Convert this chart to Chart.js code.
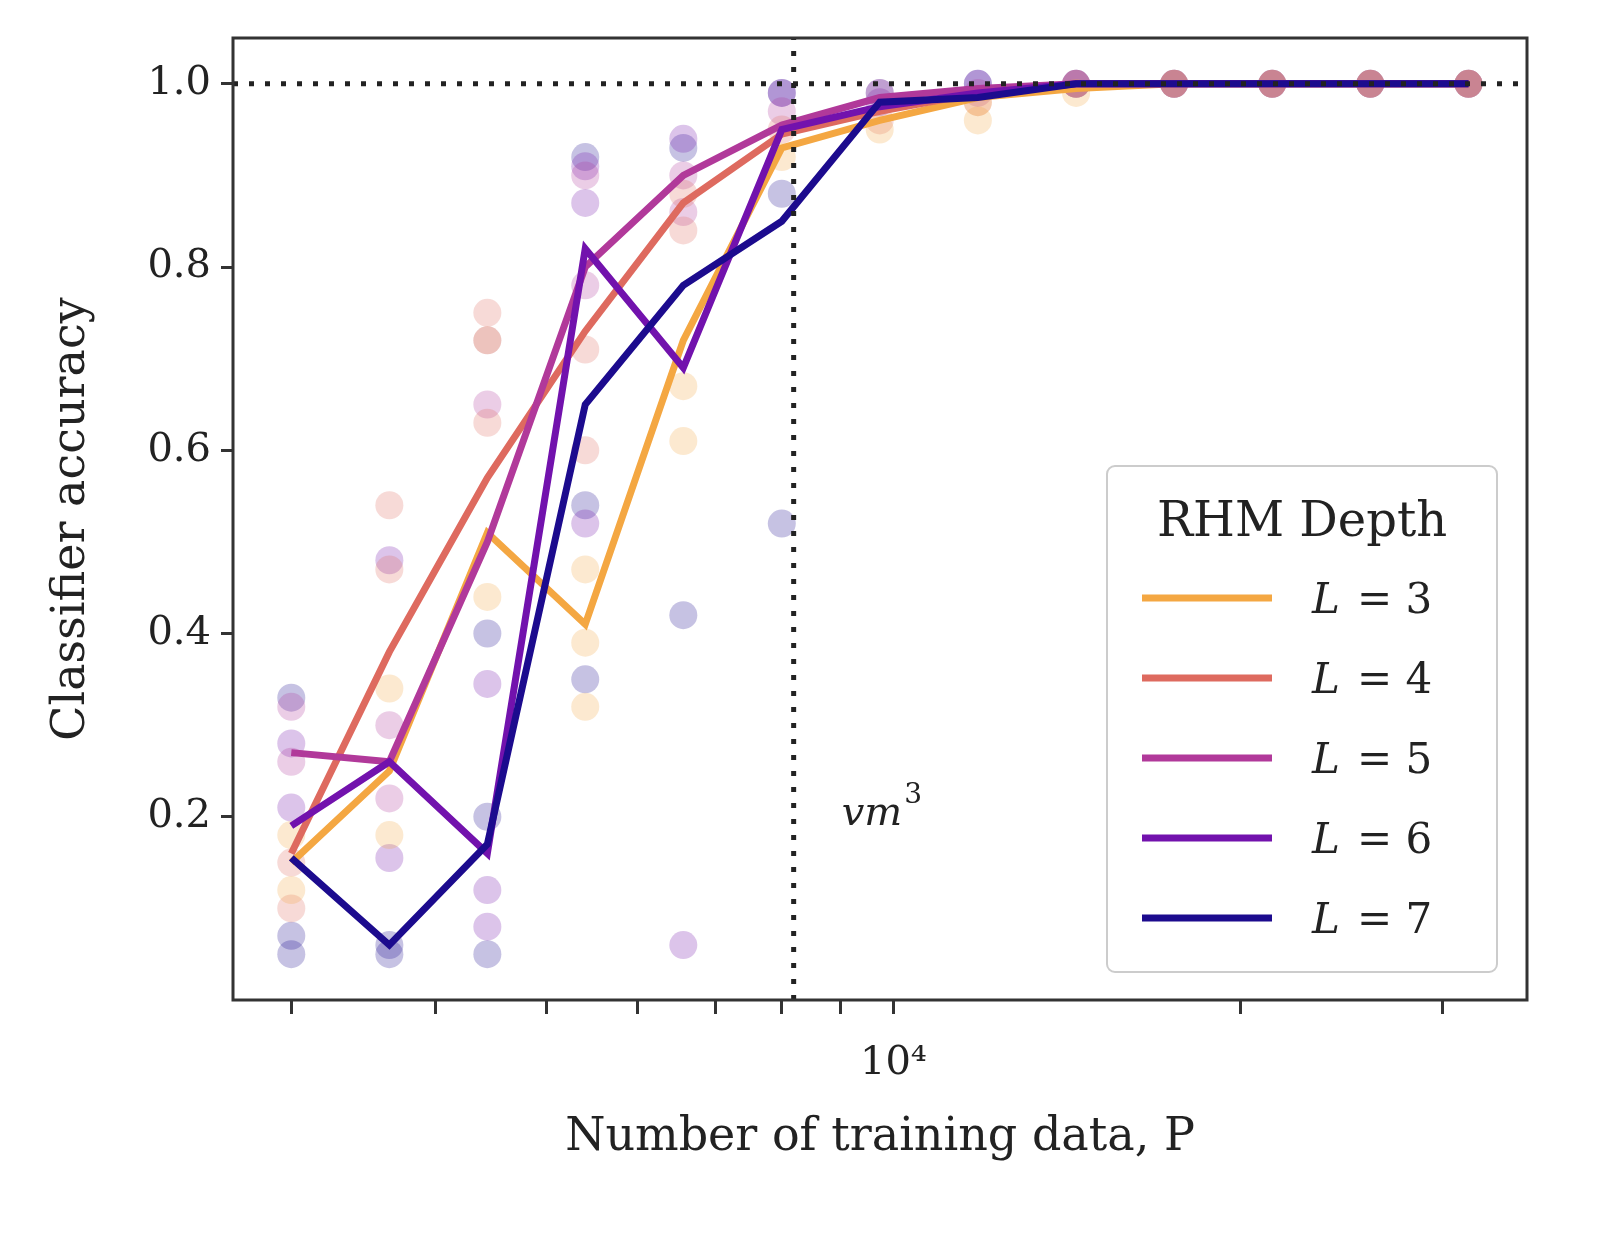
<!DOCTYPE html>
<html><head><meta charset="utf-8">
<script src="https://cdn.jsdelivr.net/npm/chart.js@4.4.1/dist/chart.umd.min.js"></script>
<style>html,body{margin:0;padding:0;background:#fff}#w{width:1600px;height:1240px}</style>
</head><body><div id="w"><canvas id="c"></canvas></div>
<script>
const P = [3000, 3650, 4440, 5400, 6570, 8000, 9730, 11840, 14410, 17530, 21330, 25950, 31580];
const vLineX = 8192;
const labels = ["L = 3", "L = 4", "L = 5", "L = 6", "L = 7"];
const colors = ["#f4a742", "#de6a5f", "#b1399a", "#7212ad", "#1c0b8e"];
const mean3 = [0.15, 0.25, 0.51, 0.41, 0.72, 0.93, 0.96, 0.985, 0.995, 1, 1, 1, 1];
const mean4 = [0.16, 0.38, 0.57, 0.73, 0.87, 0.945, 0.97, 0.99, 1, 1, 1, 1, 1];
const mean5 = [0.27, 0.26, 0.50, 0.80, 0.90, 0.955, 0.985, 0.995, 1, 1, 1, 1, 1];
const mean6 = [0.19, 0.26, 0.16, 0.82, 0.69, 0.95, 0.975, 0.99, 1, 1, 1, 1, 1];
const mean7 = [0.155, 0.06, 0.17, 0.65, 0.78, 0.85, 0.98, 0.985, 1, 1, 1, 1, 1];
// individual runs (per P index)
const runs3 = [[0.12,0.18],[0.18,0.34],[0.44,0.72],[0.32,0.39,0.47],[0.61,0.67],[0.92],[0.95],[0.96,0.98],[0.99],[1],[1],[1],[1]];
const runs4 = [[0.10,0.15],[0.54,0.47],[0.63,0.75],[0.71,0.60],[0.84,0.88],[0.95],[0.96],[0.98],[1],[1],[1],[1],[1]];
const runs5 = [[0.26,0.32],[0.30,0.22],[0.65,0.72],[0.90,0.78],[0.90,0.86],[0.97],[0.99],[0.99],[1],[1],[1],[1],[1]];
const runs6 = [[0.21,0.28],[0.48,0.155],[0.345,0.08,0.12],[0.87,0.91,0.52],[0.94,0.06],[0.99],[0.98],[1],[1],[1],[1],[1],[1]];
const runs7 = [[0.33,0.07,0.05],[0.05,0.06],[0.40,0.05,0.20],[0.92,0.54,0.35],[0.42,0.93],[0.52,0.88,0.99],[0.99],[1],[1],[1],[1],[1],[1]];
const refY = [1.0, 1.0];
const refX = [2670, 35500];
const vY = [0, 1.05];

const means = [mean3, mean4, mean5, mean6, mean7];
const runs = [runs3, runs4, runs5, runs6, runs7];
function hexA(h, a){const n=parseInt(h.slice(1),16);return `rgba(${n>>16},${(n>>8)&255},${n&255},${a})`;}
const datasets = [];
runs.forEach((r, i) => {
  const pts = [];
  r.forEach((vals, k) => vals.forEach(v => pts.push({x: P[k], y: v})));
  datasets.push({type:'scatter', label:'_runs'+i, data: pts, pointRadius: 14, pointBorderWidth: 0,
    backgroundColor: hexA(colors[i], 0.25), showLine:false, order: 10});
});
means.forEach((m, i) => {
  datasets.push({type:'line', label: labels[i], data: m.map((v,k)=>({x:P[k], y:v})), borderColor: colors[i],
    borderWidth: 7, pointRadius: 0, tension: 0, fill:false, order: 5-i});
});
datasets.push({type:'line', label:'_h', data: refX.map((x,k)=>({x, y: refY[k]})), borderColor:'#222', borderWidth:5, borderDash:[5,11], pointRadius:0, order:0});
datasets.push({type:'line', label:'_v', data: vY.map(y=>({x: vLineX, y})), borderColor:'#222', borderWidth:5, borderDash:[5,11], pointRadius:0, order:0});

const serif = "'DejaVu Serif', 'Liberation Serif', serif";
const framePlugin = {
  id:'frame',
  afterDraw(chart){
    const {ctx, chartArea:a, scales} = chart;
    ctx.save();
    ctx.strokeStyle = '#333'; ctx.lineWidth = 3;
    ctx.strokeRect(a.left, a.top, a.right-a.left, a.bottom-a.top);
    ctx.fillStyle = '#222'; ctx.font = "italic 40px " + serif; ctx.textBaseline='alphabetic';
    const ax = scales.x.getPixelForValue(vLineX) + 48, ay = scales.y.getPixelForValue(0.2);
    ctx.fillText('vm', ax, ay + 8);
    const w = ctx.measureText('vm').width;
    ctx.font = "28px " + serif; ctx.fillText('3', ax + w + 2, ay - 14);
    const bx = 1107, by = 466, bw = 390, bh = 506;
    ctx.fillStyle = 'rgba(255,255,255,0.85)'; ctx.strokeStyle = '#ccc'; ctx.lineWidth = 2;
    ctx.beginPath(); ctx.roundRect(bx, by, bw, bh, 8); ctx.fill(); ctx.stroke();
    ctx.fillStyle = '#222'; ctx.font = "48px " + serif; ctx.textAlign='center';
    ctx.fillText('RHM Depth', bx + bw/2, by + 70);
    ctx.textAlign = 'left';
    labels.forEach((l, i) => {
      const yy = by + 132 + i*80;
      ctx.strokeStyle = colors[i]; ctx.lineWidth = 7;
      ctx.beginPath(); ctx.moveTo(bx + 35, yy); ctx.lineTo(bx + 165, yy); ctx.stroke();
      ctx.fillStyle = '#222'; ctx.font = "italic 42px " + serif;
      ctx.fillText('L', bx + 205, yy + 15);
      ctx.font = "42px " + serif;
      ctx.fillText('= ' + l.slice(4), bx + 250, yy + 15);
    });
    ctx.restore();
  }
};

new Chart(document.getElementById('c'), {
  data: { datasets },
  options: {
    responsive:true, maintainAspectRatio:false, animation:false,
    layout:{padding:{top:38, right:73, left:40, bottom:70}},
    plugins:{legend:{display:false}, tooltip:{enabled:false}},
    scales:{
      x:{type:'logarithmic', min:2670, max:35500,
        afterBuildTicks(s){ s.ticks = [3000,4000,5000,6000,7000,8000,9000,10000,20000,30000].map(v=>({value:v})); },
        afterFit(s){ s.height = 170; },
        ticks:{autoSkip:false, maxRotation:0, font:{family:serif, size:40}, color:'#222', padding:26,
          callback:(v)=> v===10000 ? '10⁴' : ''},
        grid:{drawOnChartArea:false, drawTicks:true, tickLength:14, color:'#333', lineWidth:3},
        border:{display:false},
        title:{display:true, text:'Number of training data, P', font:{family:serif, size:46}, color:'#222', padding:{top:0}}
      },
      y:{min:0, max:1.05,
        afterBuildTicks(s){ s.ticks = [0.2,0.4,0.6,0.8,1.0].map(v=>({value:v})); },
        afterFit(s){ s.width = 193; },
        ticks:{font:{family:serif, size:40}, color:'#222', padding:10, callback:(v)=>Number(v).toFixed(1)},
        grid:{drawOnChartArea:false, drawTicks:true, tickLength:12, color:'#333', lineWidth:3},
        border:{display:false},
        title:{display:true, text:'Classifier accuracy', font:{family:serif, size:46}, color:'#222'}
      }
    }
  },
  plugins:[framePlugin]
});
</script></body></html>
